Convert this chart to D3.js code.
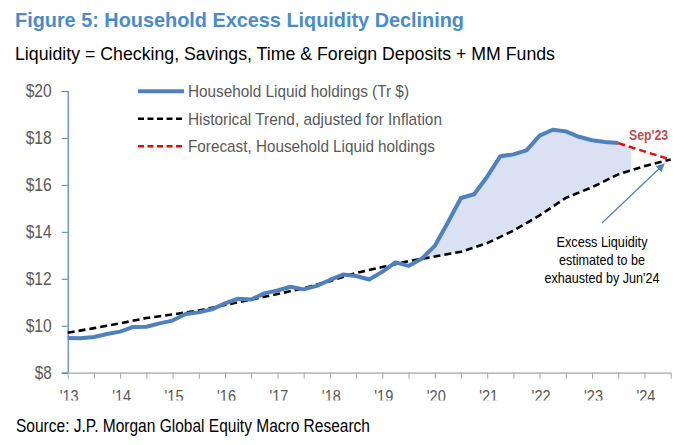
<!DOCTYPE html>
<html>
<head>
<meta charset="utf-8">
<script src="https://cdn.jsdelivr.net/npm/d3@7"></script>
<style>
  body { margin: 0; background: #fff; }
  svg { font-family: "Liberation Sans", Arial, sans-serif; }
</style>
</head>
<body>
<svg id="chart" width="694" height="445"></svg>
<script>
// quarterly household liquid holdings, Tr $
const liquidDates = [
  2013.0, 2013.25, 2013.5, 2013.75, 2014.0, 2014.25, 2014.5, 2014.75,
  2015.0, 2015.25, 2015.5, 2015.75, 2016.0, 2016.25, 2016.5, 2016.75,
  2017.0, 2017.25, 2017.5, 2017.75, 2018.0, 2018.25, 2018.5, 2018.75,
  2019.0, 2019.25, 2019.5, 2019.75, 2020.0, 2020.25, 2020.5, 2020.75,
  2021.0, 2021.25, 2021.5, 2021.75, 2022.0, 2022.25, 2022.5, 2022.75,
  2023.0, 2023.25, 2023.5
];
const liquidValues = [
  9.48, 9.47, 9.52, 9.65, 9.75, 9.95, 9.96, 10.10,
  10.22, 10.50, 10.57, 10.70, 10.95, 11.15, 11.12, 11.38,
  11.50, 11.66, 11.55, 11.70, 11.95, 12.18, 12.12, 11.97,
  12.30, 12.70, 12.55, 12.85, 13.40, 14.40, 15.44, 15.60,
  16.35, 17.22, 17.30, 17.47, 18.10, 18.35, 18.28, 18.05,
  17.90, 17.83, 17.78
];
// historical trend, adjusted for inflation (half-yearly)
const trendDates = [
  2013.0, 2013.5, 2014.0, 2014.5, 2015.0, 2015.5, 2016.0, 2016.5,
  2017.0, 2017.5, 2018.0, 2018.5, 2019.0, 2019.5, 2020.0, 2020.5,
  2021.0, 2021.5, 2022.0, 2022.5, 2023.0, 2023.5, 2024.0, 2024.5
];
const trendValues = [
  9.70, 9.90, 10.10, 10.33, 10.48, 10.65, 10.88, 11.12,
  11.35, 11.60, 11.90, 12.25, 12.50, 12.75, 12.95, 13.15,
  13.52, 14.05, 14.70, 15.45, 15.90, 16.45, 16.80, 17.08
];
// forecast: Jun'23, Sep'23, Jun'24
const forecastDates = [2023.5, 2023.75, 2024.5];
const forecastValues = [17.78, 17.60, 17.08];

const yTicks = [8, 10, 12, 14, 16, 18, 20];
const yearTicks = [2013, 2014, 2015, 2016, 2017, 2018, 2019, 2020, 2021, 2022, 2023, 2024];
const legendLabels = [
  "Household Liquid holdings (Tr $)",
  "Historical Trend, adjusted for Inflation",
  "Forecast, Household Liquid holdings"
];
const noteLines = ["Excess Liquidity", "estimated to be", "exhausted by Jun'24"];
const shadeFrom = 2019.75, shadeTo = 2023.75;

const svg = d3.select("#chart");
const blue = "#4F81BD";
const grey = "#595959";

const x = d3.scaleLinear().domain([2013, 2024.5]).range([67.7, 670.7]);
const y = d3.scaleLinear().domain([8, 20]).range([372.7, 91]);

const liquid = liquidDates.map((d, i) => [d, liquidValues[i]]);
const trend = trendDates.map((d, i) => [d, trendValues[i]]);
const forecast = forecastDates.map((d, i) => [d, forecastValues[i]]);

const line = d3.line().x(d => x(d[0])).y(d => y(d[1]));

// narrow-looking text: squeeze to the measured width
function fit(sel, w) {
  return sel.attr("textLength", w).attr("lengthAdjust", "spacingAndGlyphs");
}

// titles
fit(svg.append("text").attr("x", 15).attr("y", 27)
  .attr("font-size", 21).attr("font-weight", "bold").attr("fill", "#4A8CCB")
  .text("Figure 5: Household Excess Liquidity Declining"), 449);
fit(svg.append("text").attr("x", 15).attr("y", 60)
  .attr("font-size", 18.5).attr("fill", "#000")
  .text("Liquidity = Checking, Savings, Time & Foreign Deposits + MM Funds"), 540);

// shaded excess liquidity
const defs = svg.append("defs");
defs.append("clipPath").attr("id", "aboveTrend")
  .append("path")
  .attr("d", d3.area().x(d => x(d[0])).y0(y.range()[1]).y1(d => y(d[1]))(trend));
defs.append("clipPath").attr("id", "shadeRange")
  .append("rect")
  .attr("x", x(shadeFrom)).attr("y", 0)
  .attr("width", x(shadeTo) - x(shadeFrom)).attr("height", 445);
defs.append("clipPath").attr("id", "labelCut")
  .append("rect").attr("x", 0).attr("y", 380).attr("width", 694).attr("height", 20.5);

svg.append("g").attr("clip-path", "url(#aboveTrend)")
  .append("path")
  .attr("clip-path", "url(#shadeRange)")
  .attr("fill", "#D9E1F2")
  .attr("d", d3.area().x(d => x(d[0])).y0(y(8)).y1(d => y(d[1]))(liquid.concat(forecast.slice(1))));

// y axis
const yAxis = svg.append("g").attr("transform", `translate(${x(2013)},0)`)
  .call(d3.axisLeft(y).tickValues(yTicks).tickSize(6).tickPadding(10).tickFormat(d => "$" + d));
yAxis.select(".domain").attr("stroke", blue).attr("stroke-width", 1.2);
yAxis.selectAll(".tick line").attr("stroke", blue);
yAxis.selectAll(".tick text").attr("fill", grey).attr("font-size", 17.5)
  .attr("font-family", "Liberation Sans, Arial, sans-serif")
  .attr("textLength", d => String(d).length === 1 ? 17 : 26)
  .attr("lengthAdjust", "spacingAndGlyphs");

// x axis
const halfYears = d3.range(2013, 2024.51, 0.5);
const xAxis = svg.append("g").attr("transform", `translate(0,${y(8)})`)
  .call(d3.axisBottom(x).tickValues(halfYears).tickSize(6).tickSizeOuter(0).tickFormat(""));
xAxis.select(".domain").attr("stroke", "#A6A6A6").attr("stroke-width", 1.2);
xAxis.selectAll(".tick line").attr("stroke", "#A6A6A6");
svg.append("g").attr("clip-path", "url(#labelCut)")
  .selectAll("text")
  .data(yearTicks).enter().append("text")
  .attr("x", d => x(d) + 1.5).attr("y", 402)
  .attr("text-anchor", "middle").attr("font-size", 17).attr("fill", grey)
  .attr("textLength", 19).attr("lengthAdjust", "spacingAndGlyphs")
  .text(d => "'" + String(d).slice(2));

// lines
svg.append("path").attr("d", line(trend))
  .attr("fill", "none").attr("stroke", "#000").attr("stroke-width", 2.6)
  .attr("stroke-dasharray", "7,4");
svg.append("path").attr("d", line(liquid))
  .attr("fill", "none").attr("stroke", blue).attr("stroke-width", 4)
  .attr("stroke-linejoin", "round");
svg.append("path").attr("d", line(forecast))
  .attr("fill", "none").attr("stroke", "#FF0000").attr("stroke-width", 2.4)
  .attr("stroke-dasharray", "7,4");

// legend
const legend = svg.append("g");
const swatch = [
  { color: blue, width: 4, dash: null },
  { color: "#000", width: 2.4, dash: "6,3.5" },
  { color: "#FF0000", width: 2.4, dash: "6,3.5" }
];
const legendWidths = [221, 254, 247];
legendLabels.forEach((label, i) => {
  const ly = 91.3 + i * 27.5;
  legend.append("line")
    .attr("x1", 138).attr("x2", 184).attr("y1", ly).attr("y2", ly)
    .attr("stroke", swatch[i].color).attr("stroke-width", swatch[i].width)
    .attr("stroke-dasharray", swatch[i].dash);
  fit(legend.append("text").attr("x", 188).attr("y", ly + 6)
    .attr("font-size", 17).attr("fill", grey).text(label), legendWidths[i]);
});

// Sep'23 label
fit(svg.append("text").attr("x", 629).attr("y", 140)
  .attr("font-size", 14).attr("font-weight", "bold")
  .attr("fill", "#C0504D").text("Sep'23"), 39);

// annotation
defs.append("marker").attr("id", "arrow")
  .attr("viewBox", "0 0 10 10").attr("refX", 9).attr("refY", 5)
  .attr("markerWidth", 7).attr("markerHeight", 7).attr("orient", "auto")
  .append("path").attr("d", "M0,0L10,5L0,10z").attr("fill", blue);
svg.append("line")
  .attr("x1", 602).attr("y1", 223).attr("x2", 664).attr("y2", 164)
  .attr("stroke", blue).attr("stroke-width", 1.2)
  .attr("marker-end", "url(#arrow)");
const noteWidths = [91, 86, 115];
svg.append("g").selectAll("text").data(noteLines).enter().append("text")
  .attr("x", 602).attr("y", (d, i) => 246.5 + i * 18)
  .attr("text-anchor", "middle").attr("font-size", 14.5).attr("fill", "#000")
  .attr("textLength", (d, i) => noteWidths[i]).attr("lengthAdjust", "spacingAndGlyphs")
  .text(d => d);

// source
fit(svg.append("text").attr("x", 16).attr("y", 432)
  .attr("font-size", 17.5).attr("fill", "#000")
  .text("Source: J.P. Morgan Global Equity Macro Research"), 354);
</script>
</body>
</html>
